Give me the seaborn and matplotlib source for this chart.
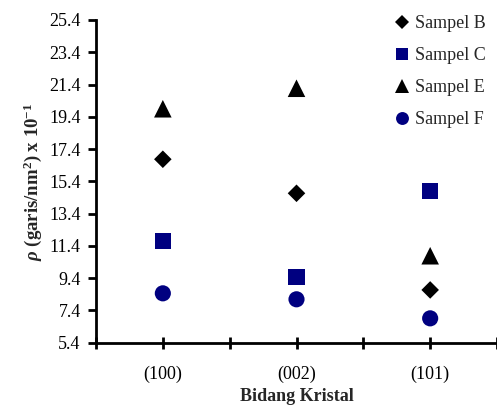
import matplotlib
matplotlib.use("Agg")
import matplotlib.pyplot as plt
import seaborn as sns
import pandas as pd
from matplotlib.lines import Line2D

categories = ["(100)", "(002)", "(101)"]
sampel_b = [16.77, 14.66, 8.67]
sampel_c = [11.70, 9.49, 14.82]
sampel_e = [19.90, 21.17, 10.79]
sampel_f = [8.46, 8.09, 6.91]
y_ticks = [5.4, 7.4, 9.4, 11.4, 13.4, 15.4, 17.4, 19.4, 21.4, 23.4, 25.4]

sns.set_style("ticks")
plt.rcParams["font.family"] = ["Liberation Serif", "DejaVu Serif"]
plt.rcParams["mathtext.fontset"] = "custom"
plt.rcParams["mathtext.rm"] = "Liberation Serif:bold"
plt.rcParams["mathtext.it"] = "Liberation Serif:italic:bold"
plt.rcParams["mathtext.bf"] = "Liberation Serif:bold"

navy = "#000080"
series = [
    ("Sampel B", sampel_b, "D", "black", 80),
    ("Sampel C", sampel_c, "s", navy, 135),
    ("Sampel E", sampel_e, "^", "black", 160),
    ("Sampel F", sampel_f, "o", navy, 135),
]

fig = plt.figure(figsize=(4.97, 4.05), dpi=100)
ax = fig.add_axes([96 / 497, 1 - 342.7 / 405, 1 - 96 / 497, (342.7 - 20) / 405])

for name, vals, mk, col, s in series:
    df = pd.DataFrame({"Bidang": categories, "rho": vals})
    sns.scatterplot(data=df, x="Bidang", y="rho", marker=mk, color=col, s=s,
                    edgecolor="none", linewidth=0, ax=ax, legend=False, zorder=3)

ax.set_xlim(-0.5, 2.5)
ax.set_ylim(5.4, 25.4)
ax.set_yticks(y_ticks)
ax.set_yticklabels([f"{v:.1f}" for v in y_ticks])
ax.set_xticks(range(len(categories)))
ax.set_xticklabels(categories)
ax.set_xticks([-0.5, 0.5, 1.5, 2.5], minor=True)

for sp in ["top", "right"]:
    ax.spines[sp].set_visible(False)
for sp in ["left", "bottom"]:
    ax.spines[sp].set_linewidth(2.0)
    ax.spines[sp].set_color("black")

ax.tick_params(axis="y", which="major", direction="out", length=6, width=2,
               labelsize=13, pad=5, colors="black")
ax.tick_params(axis="x", which="both", direction="inout", length=8.5, width=2,
               labelsize=13, pad=12, colors="black")

ax.set_xlabel("Bidang Kristal", fontsize=13, fontweight="bold", labelpad=4)
ax.set_ylabel(r"$\rho$ (garis/nm$^{\mathbf{2}}$) x 10$^{\mathbf{-1}}$", fontsize=13.5,
              fontweight="bold", labelpad=4)

handles = [Line2D([], [], linestyle="none", marker=mk, color=col,
                  markersize=(s ** 0.5) * 0.8, markeredgewidth=0)
           for name, vals, mk, col, s in series]
labels = [name for name, *_ in series]
ax.legend(handles, labels, loc="upper left", bbox_to_anchor=(395 / 497, 1 - 15 / 405),
          bbox_transform=fig.transFigure, frameon=False, fontsize=13,
          handlelength=0.8, handletextpad=0.3, labelspacing=0.83,
          borderpad=0, borderaxespad=0)

fig.savefig("out.png", dpi=100)
